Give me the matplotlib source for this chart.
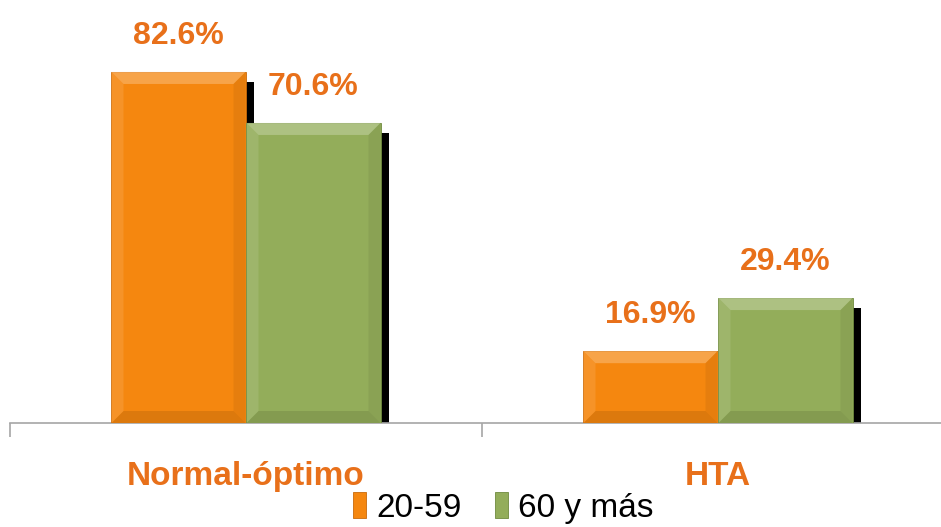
import matplotlib.pyplot as plt
import matplotlib.colors as mcolors
from matplotlib.patches import Polygon
from matplotlib.transforms import IdentityTransform
import numpy as np

# --- datos ---
categorias = ['Normal-óptimo', 'HTA']
grupos = ['20-59', '60 y más']
valores_20_59 = [82.6, 16.9]
valores_60_mas = [70.6, 29.4]

color_naranja = '#F5870F'
color_verde = '#93AD5A'
color_texto = '#E8701A'

plt.rcParams['font.family'] = ['Liberation Sans Narrow', 'Liberation Sans', 'DejaVu Sans']


def bisel(ax, barra, color):
    """Dibuja un bisel simple (claro arriba, oscuro abajo) sobre la barra."""
    x0, y0 = ax.transData.transform((barra.get_x(), 0))
    x1, y1 = ax.transData.transform((barra.get_x() + barra.get_width(), barra.get_height()))
    b = 12
    claro = mcolors.to_rgb(color)
    claro = [c + (1 - c) * 0.35 for c in claro]
    oscuro = [c * 0.8 for c in mcolors.to_rgb(color)]
    arriba = [(x0, y1), (x1, y1), (x1 - b, y1 - b), (x0 + b, y1 - b)]
    abajo = [(x0, y0), (x1, y0), (x1 - b, y0 + b), (x0 + b, y0 + b)]
    izq = [(x0, y0), (x0, y1), (x0 + b, y1 - b), (x0 + b, y0 + b)]
    der = [(x1, y0), (x1, y1), (x1 - b, y1 - b), (x1 - b, y0 + b)]
    ax.add_patch(Polygon(arriba, closed=True, transform=IdentityTransform(),
                         facecolor=claro, edgecolor='none', alpha=0.7, zorder=4))
    ax.add_patch(Polygon(abajo, closed=True, transform=IdentityTransform(),
                         facecolor=oscuro, edgecolor='none', alpha=0.5, zorder=4))
    ax.add_patch(Polygon(izq, closed=True, transform=IdentityTransform(),
                         facecolor=claro, edgecolor='none', alpha=0.3, zorder=4))
    ax.add_patch(Polygon(der, closed=True, transform=IdentityTransform(),
                         facecolor=oscuro, edgecolor='none', alpha=0.3, zorder=4))


def main():
    fig = plt.figure(figsize=(9.41, 5.27), dpi=100)
    # eje: linea base en y=423 px, izquierda en x=10 px, cada categoria 472 px
    ax = fig.add_axes([10 / 941, 104 / 527, 944 / 941, 413 / 527])
    ax.set_xlim(-0.5, 1.5)
    ax.set_ylim(0, 413 / 4.25)

    x = np.arange(len(categorias))
    ancho = 0.284
    desp = 0.143

    # sombras
    ax.bar(x - desp + 0.017, np.array(valores_20_59) - 1.9, ancho, bottom=-0.5,
           color='black', zorder=2)
    ax.bar(x + desp + 0.017, np.array(valores_60_mas) - 1.9, ancho, bottom=-0.5,
           color='black', zorder=2)

    b1 = ax.bar(x - desp, valores_20_59, ancho, color=color_naranja, label=grupos[0],
                edgecolor='#C86A0A', linewidth=0.6, zorder=3)
    b2 = ax.bar(x + desp, valores_60_mas, ancho, color=color_verde, label=grupos[1],
                edgecolor='#6F8A3E', linewidth=0.6, zorder=3)

    for barra in b1:
        bisel(ax, barra, color_naranja)
    for barra in b2:
        bisel(ax, barra, color_verde)

    for barras, vals in [(b1, valores_20_59), (b2, valores_60_mas)]:
        for barra, v in zip(barras, vals):
            ax.annotate(f'{v}%', (barra.get_x() + barra.get_width() / 2, v),
                        xytext=(0, 15), textcoords='offset points', ha='center',
                        va='bottom', fontsize=23, fontweight='bold', color=color_texto,
                        clip_on=False)

    # ejes
    for lado in ['top', 'right', 'left']:
        ax.spines[lado].set_visible(False)
    ax.spines['bottom'].set_color('#A6A6A6')
    ax.spines['bottom'].set_linewidth(1.2)
    ax.set_yticks([])
    ax.set_xticks([-0.5, 0.5, 1.5])
    ax.set_xticklabels([])
    ax.tick_params(axis='x', length=10, color='#A6A6A6', width=1.2)
    for xi, cat in zip(x, categorias):
        ax.text(xi, -12.5, cat, ha='center', va='center', fontsize=24,
                fontweight='bold', color=color_texto)

    fig.legend(handles=[b1, b2], labels=grupos, loc='center',
               bbox_to_anchor=(503 / 941, 1 - 508 / 527), ncol=2, frameon=False,
               fontsize=24, handlelength=0.4, handleheight=0.8,
               handletextpad=0.3, columnspacing=1.0)

    plt.savefig('out.png', dpi=100)


if __name__ == "__main__":
    main()
